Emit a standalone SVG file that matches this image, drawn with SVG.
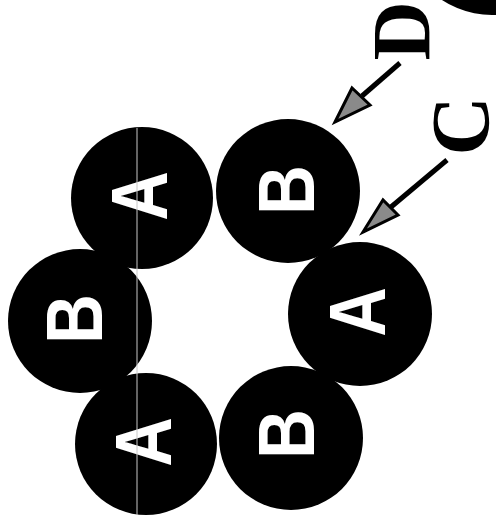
<svg xmlns="http://www.w3.org/2000/svg" width="496" height="531" viewBox="0 0 496 531">
<style>
.ball{fill:#000}
.lbl{fill:#fff;font-family:"Liberation Sans",Arial,sans-serif;font-weight:bold;font-size:80px;text-anchor:middle}
.cap{fill:#000;font-family:"Liberation Serif","Times New Roman",serif;font-weight:bold;font-size:82px;text-anchor:middle}
.shaft{stroke:#000;stroke-width:5;fill:none}
.head{fill:#8a8a8a;stroke:#000;stroke-width:3;stroke-linejoin:miter}
</style>
<rect width="496" height="531" fill="#fff"/>
<g id="corner"><circle class="ball" cx="492" cy="-76" r="91"/></g>
<g id="n1"><circle class="ball" cx="142" cy="198" r="71"/><text class="lbl" transform="translate(138,196) rotate(-90) scale(0.86,1)" y="29">A</text></g>
<g id="n2"><circle class="ball" cx="288" cy="191" r="72"/><text class="lbl" transform="translate(285,190) rotate(-90) scale(0.86,1)" y="29">B</text></g>
<g id="n3"><circle class="ball" cx="80" cy="321" r="72"/><text class="lbl" transform="translate(73,319) rotate(-90) scale(0.86,1)" y="29">B</text></g>
<g id="n4"><circle class="ball" cx="360" cy="314" r="72"/><text class="lbl" transform="translate(356,312) rotate(-90) scale(0.86,1)" y="29">A</text></g>
<g id="n5"><circle class="ball" cx="146" cy="444" r="71"/><text class="lbl" transform="translate(142,442) rotate(-90) scale(0.86,1)" y="29">A</text></g>
<g id="n6"><circle class="ball" cx="291" cy="438" r="72"/><text class="lbl" transform="translate(285,434) rotate(-90) scale(0.86,1)" y="29">B</text></g>
<line x1="137" y1="128" x2="137" y2="515" stroke="#c8c8c8" stroke-width="1"/>
<g id="labelD"><text class="cap" transform="translate(402,31) rotate(-90)" y="27">D</text></g>
<g id="labelC"><text class="cap" transform="translate(461,126) rotate(-90)" y="27">C</text></g>
<g id="connectors">
<line class="shaft" x1="400" y1="63" x2="362" y2="96"/>
<polygon class="head" points="335,122 352,88 370,105"/>
<line class="shaft" x1="447" y1="160" x2="391" y2="207"/>
<polygon class="head" points="363,232 383,200 398,215"/>
</g>
</svg>
